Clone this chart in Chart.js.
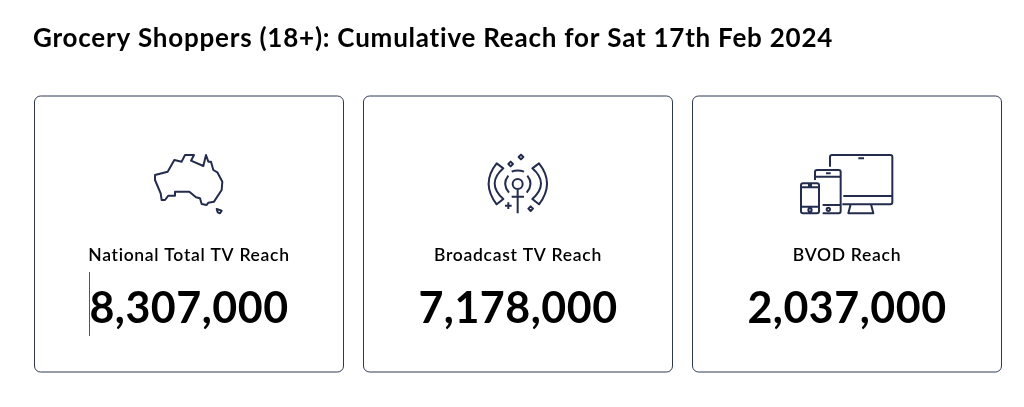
<!DOCTYPE html>
<html>
<head>
<meta charset="utf-8">
<title>Grocery Shoppers Reach</title>
<script src="https://cdn.jsdelivr.net/npm/chart.js@4/dist/chart.umd.min.js"></script>
<style>
  html, body { margin: 0; padding: 0; background: #fff; overflow: hidden; }
  canvas { display: block; }
</style>
</head>
<body>
<canvas id="reachChart" width="1024" height="407"></canvas>
<script>
const chartTitle = "Grocery Shoppers (18+): Cumulative Reach for Sat 17th Feb 2024";
const categories = ["National Total TV Reach", "Broadcast TV Reach", "BVOD Reach"];
const reachValues = [8307000, 7178000, 2037000];

const NAVY = "#232c4d";
const FONT = "Lato, sans-serif";
const formatter = new Intl.NumberFormat("en-AU");

// icons are traced at 3x, origin is relative to the card centre
const iconPaths = [
  {
    dx: -49, y: 140,
    d: "M45 105 L83 95 L103 60 L125 65 L135 45 L162 45 L153 62 L190 78 L198 45 L205 65 L213 65 L220 90 L232 97 L247 125 L245 150 L222 185 L205 188 L200 195 L185 192 L180 175 L168 172 L148 155 L105 155 L105 167 L85 167 L75 180 L65 180 L62 160 L45 120 Z " +
       "M230 207 L245 212 L240 220 L233 217 Z"
  },
  {
    dx: -43, y: 145,
    d: "M65 55 L85 70 Q33 115 85 162 L65 178 Q17 115 65 55 Z " +
       "M192 55 L172 70 Q224 115 172 162 L192 178 Q240 115 192 55 Z " +
       "M110 80 Q128 73 147 80 M100 92 Q80 117 102 143 M157 92 Q177 117 155 143 " +
       "M143 117 A15 15 0 1 1 113 117 A15 15 0 1 1 143 117 Z " +
       "M128 132 L128 205 M110 155 L147 155 " +
       "M90 182 L110 182 M100 172 L100 192 " +
       "M107 50 L114 57 L107 64 L100 57 Z M138 29 L145 36 L138 43 L131 36 Z M167 184 L174 191 L167 198 L160 191 Z"
  },
  {
    dx: -57, y: 145,
    d: "M120 65 L120 36 Q120 30 126 30 L301 30 Q307 30 307 36 L307 172 Q307 178 301 178 L157 178 " +
       "M160 153 L307 153 M205 40 L222 40 M182 178 L175 205 L250 205 L243 178 " +
       "M75 105 L75 81 Q75 75 81 75 L146 75 Q152 75 152 81 L152 199 Q152 205 146 205 L98 205 " +
       "M75 95 L152 95 M98 180 L152 180 M108 85 L122 85 " +
       "M120 193 A5 5 0 1 1 110 193 A5 5 0 1 1 120 193 Z " +
       "M39 115 L81 115 Q87 115 87 121 L87 199 Q87 205 81 205 L39 205 Q33 205 33 199 L33 121 Q33 115 39 115 Z " +
       "M33 127 L87 127 M33 185 L87 185 M54 121 L66 121 " +
       "M65 195 A5 5 0 1 1 55 195 A5 5 0 1 1 65 195 Z"
  }
];

const kpiCards = {
  id: "kpiCards",
  afterLayout(chart) {
    // title sits on the card edge, not on the chart's left edge
    chart.titleBlock.left = 33;
    chart.titleBlock.right = 1000;
  },
  beforeDraw(chart) {
    chart.ctx.letterSpacing = "0.77px";
  },
  afterDatasetsDraw(chart) {
    const ctx = chart.ctx;
    const bars = chart.getDatasetMeta(0).data;

    bars.forEach((bar, i) => {
      const cx = bar.x;

      ctx.save();
      ctx.strokeStyle = "#2f3853";
      ctx.lineWidth = 1;
      ctx.beginPath();
      ctx.roundRect(cx - 154.5, 96, 309, 276, 6);
      ctx.stroke();

      ctx.save();
      ctx.translate(cx + iconPaths[i].dx, iconPaths[i].y);
      ctx.scale(1 / 3, 1 / 3);
      ctx.strokeStyle = NAVY;
      ctx.lineWidth = 6;
      ctx.lineJoin = "round";
      ctx.stroke(new Path2D(iconPaths[i].d));
      ctx.restore();

      ctx.fillStyle = "#000";
      ctx.textAlign = "center";
      ctx.textBaseline = "middle";
      ctx.letterSpacing = "0.7px";
      ctx.font = "600 17.5px " + FONT;
      ctx.fillText(chart.data.labels[i], cx, 255);
      ctx.letterSpacing = "0.5px";
      ctx.font = "700 43px " + FONT;
      ctx.fillText(formatter.format(chart.data.datasets[0].data[i]), cx, 309);
      ctx.restore();
    });

    // stray caret line in front of the first number
    ctx.save();
    ctx.strokeStyle = "#555";
    ctx.lineWidth = 1;
    ctx.beginPath();
    ctx.moveTo(89.5, 272);
    ctx.lineTo(89.5, 336);
    ctx.stroke();
    ctx.restore();
  }
};

const ctx = document.getElementById("reachChart").getContext("2d");
const reachChart = new Chart(ctx, {
  type: "bar",
  data: {
    labels: categories,
    datasets: [{
      label: "Reach",
      data: reachValues,
      backgroundColor: "rgba(0,0,0,0)",
      borderWidth: 0
    }]
  },
  options: {
    responsive: false,
    animation: false,
    layout: { padding: { left: 24.5, right: 12.5, top: 0, bottom: 0 } },
    scales: {
      x: { display: false },
      y: { display: false, beginAtZero: true }
    },
    plugins: {
      legend: { display: false },
      tooltip: { enabled: false },
      title: {
        display: true,
        text: chartTitle,
        align: "start",
        color: "#000",
        font: { family: FONT, size: 26, weight: "700" },
        padding: { top: 23, bottom: 0 }
      }
    }
  },
  plugins: [kpiCards]
});
</script>
</body>
</html>
